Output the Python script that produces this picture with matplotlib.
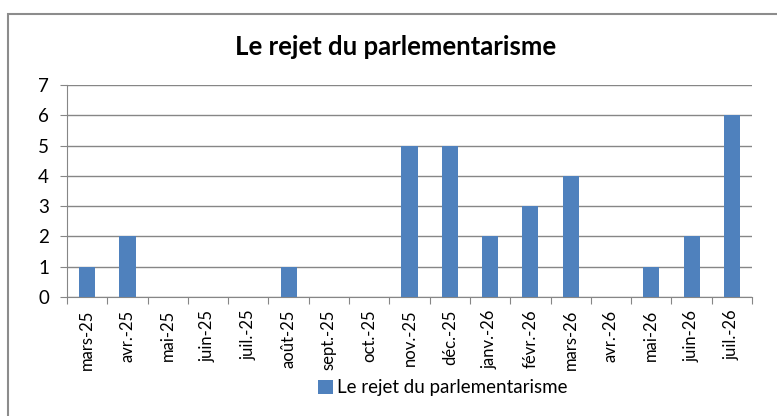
import matplotlib.pyplot as plt
from matplotlib.patches import Rectangle
import numpy as np

plt.rcParams['font.family'] = ['Lato', 'DejaVu Sans']

# données
mois = ["mars-25", "avr.-25", "mai-25", "juin-25", "juil.-25", "août-25",
        "sept.-25", "oct.-25", "nov.-25", "déc.-25", "janv.-26", "févr.-26",
        "mars-26", "avr.-26", "mai-26", "juin-26", "juil.-26"]
valeurs = [1, 2, 0, 0, 0, 1, 0, 0, 5, 5, 2, 3, 4, 0, 1, 2, 6]
serie = "Le rejet du parlementarisme"
titre = "Le rejet du parlementarisme"

fig = plt.figure(figsize=(7.77, 4.16), dpi=100)

# cadre du graphique (dépasse à droite et en bas)
fig.patches.append(Rectangle((8 / 777, -0.1), 1.2, 1 - 14 / 416 + 0.1,
                             transform=fig.transFigure, fill=False,
                             edgecolor="#8c8c8c", linewidth=1.5))

ax = fig.add_axes([67 / 777, 1 - 297 / 416, (752 - 67) / 777, (297 - 85) / 416])
x = np.arange(len(mois))
ax.bar(x, valeurs, width=0.4, color="#4F81BD", label=serie, zorder=3)

ax.set_xlim(-0.5, len(mois) - 0.5)
ax.set_ylim(0, 7)
ax.set_yticks(range(0, 8))
ax.set_xticks(np.arange(len(mois) + 1) - 0.5, minor=False)
ax.set_xticklabels([])
ax.set_xticks(x, minor=True)
ax.set_xticklabels(mois, minor=True, rotation=90, fontsize=12)
ax.tick_params(axis="x", which="minor", length=0, pad=9)
ax.tick_params(axis="x", which="major", length=5, color="#868686", direction="out")
ax.tick_params(axis="y", length=5, color="#868686", labelsize=13.5, pad=8)
ax.grid(axis="y", color="#868686", linewidth=1, zorder=0)

for s in ["top", "right"]:
    ax.spines[s].set_visible(False)
ax.spines["left"].set_color("#868686")
ax.spines["bottom"].set_color("#868686")

fig.text(396 / 777, 1 - 47 / 416, titre, ha="center", va="center",
         fontsize=18.5, fontweight="bold")

fig.legend(loc="center", bbox_to_anchor=(443 / 777, 1 - 388 / 416),
           frameon=False, fontsize=13.5, handlelength=0.8, handleheight=0.8,
           handletextpad=0.2)

plt.savefig("out.png", dpi=100)
plt.close()
